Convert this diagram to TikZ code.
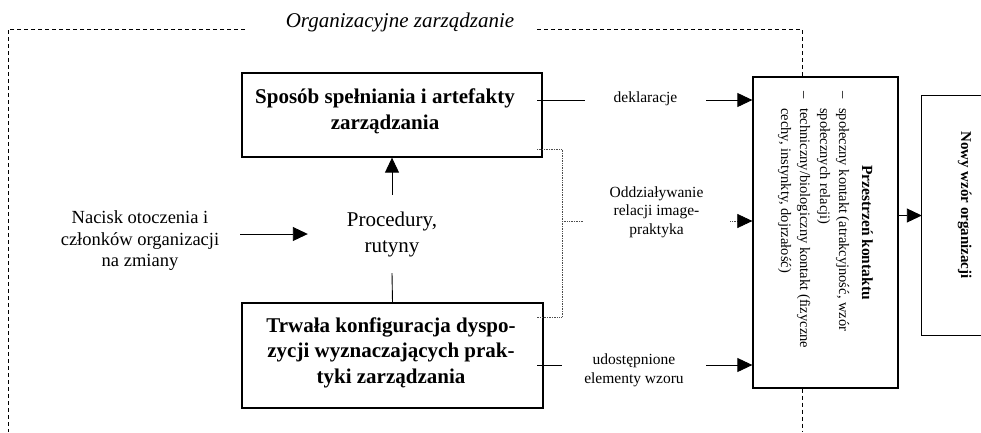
\documentclass[tikz,border=0pt]{standalone}
\usepackage{fontspec}
\setmainfont{Liberation Serif}
\usetikzlibrary{arrows.meta,calc}
\begin{document}
\begin{tikzpicture}[x=1pt,y=-1pt,
  box/.style={draw,line width=1.3pt,inner sep=0pt},
  txt/.style={inner sep=0pt,align=center},
  conn/.style={line width=0.9pt},
  arr/.style={conn,-{Triangle[length=15pt,width=14pt]}},
  dotline/.style={line width=0.7pt,densely dotted,black!70},
  frame/.style={line width=0.9pt,dash pattern=on 4pt off 3pt},
  rot/.style={rotate=-90,inner sep=0pt},
  boldbig/.style={font=\bfseries\fontsize{21}{25.5}\selectfont},
  lab/.style={txt,font=\fontsize{15.5}{18.5}\selectfont}]
\useasboundingbox (0,0) rectangle (981,432);

% title and frame
\node[txt,font=\itshape\fontsize{21}{25}\selectfont] (title) at (400,22) {Organizacyjne zarządzanie};

% boxes
\node[box,minimum width=300pt,minimum height=84pt] (sposob) at (392,115) {};
\node[box,minimum width=301pt,minimum height=105pt] (trwala) at (392.5,355.5) {};
\node[box,minimum width=145pt,minimum height=311pt] (przestrzen) at (825.5,232.5) {};
\node[inner sep=0pt,minimum width=59pt,minimum height=239pt] (nowy) at (951.5,215.5) {};
\draw[line width=1.3pt] (nowy.north east) -- (nowy.north west) -- (nowy.south west) -- (nowy.south east);

\coordinate (fT) at (802,29);
\draw[frame] (245,29) -- (8,29) -- (8,432);
\draw[frame] (537,29) -- (fT) -- (fT |- przestrzen.north);
\draw[frame] (fT |- przestrzen.south) -- (802,432);

% box texts
\node[txt,boldbig] (sposobtxt) at (385,111.5) {Sposób spełniania i artefakty\\zarządzania};
\node[txt,boldbig] (trwalatxt) at (391,352.5) {Trwała konfiguracja dyspo-\\zycji wyznaczających prak-\\tyki zarządzania};
\node[txt,font=\fontsize{21}{26}\selectfont,minimum width=168pt,minimum height=78pt] (proc) at (392,234) {Procedury,\\rutyny};
\node[txt,font=\fontsize{18.5}{21.5}\selectfont,minimum width=200pt] (nacisk) at (140,241) {Nacisk otoczenia i\\członków organizacji\\na zmiany};

% labels
\node[lab,minimum width=121pt] (dekl) at (645.5,99) {deklaracje};
\node[lab,minimum width=147pt] (odd) at (656.5,212) {Oddziaływanie\\relacji image-\\praktyka};
\node[lab,minimum width=144pt] (udo) at (634,370.5) {udostępnione\\elementy wzoru};

% Przestrzen kontaktu (rotated)
\node[rot,anchor=base,font=\bfseries\fontsize{15.5}{18}\selectfont] (ptitle) at (862,232.5) {Przestrzeń kontaktu};
\begin{scope}[every node/.style={rot,anchor=base west,font=\fontsize{14.5}{18}\selectfont}]
\node (p1) at (839,91) {\makebox[17pt][l]{–}społeczny kontakt (atrakcyjność, wzór};
\node (p2) at (820,91) {\hspace*{17pt}społecznych relacji)};
\node (p3) at (800,91) {\makebox[17pt][l]{–}techniczny/biologiczny kontakt (fizyczne};
\node (p4) at (781,91) {\hspace*{17pt}cechy, instynkty, dojrzałość)};
\end{scope}
\node[rot,anchor=base,font=\bfseries\fontsize{15}{18}\selectfont] (nowytxt) at (961,205) {Nowy wzór organizacji};

% connectors
\draw[arr] (proc.north) -- (sposob.south);
\draw[conn] (trwala.north) -- (proc.south);
\draw[arr] (nacisk.east |- proc.west) -- (proc.west);

\coordinate (dA) at (537,100);
\draw[conn] (dA) -- (dekl.west |- dA);
\draw[arr] (dekl.east |- dA) -- (przestrzen.west |- dA);

\coordinate (brA) at (537,149);
\coordinate (brB) at (537,317);
\coordinate (brM) at (562,221);
\draw[dotline] (brA) -- (brA -| brM) -- (brB -| brM) -- (brB);
\draw[dotline] (brM) -- (odd.west |- brM);
\draw[dotline,-{Triangle[length=15pt,width=14pt,color=black]}] (odd.east |- brM) -- (przestrzen.west |- brM);

\coordinate (uA) at (537,365);
\draw[conn] (uA) -- (udo.west |- uA);
\draw[arr] (udo.east |- uA) -- (przestrzen.west |- uA);

\draw[arr] (przestrzen.east |- nowy.west) -- (nowy.west);
\end{tikzpicture}
\end{document}
